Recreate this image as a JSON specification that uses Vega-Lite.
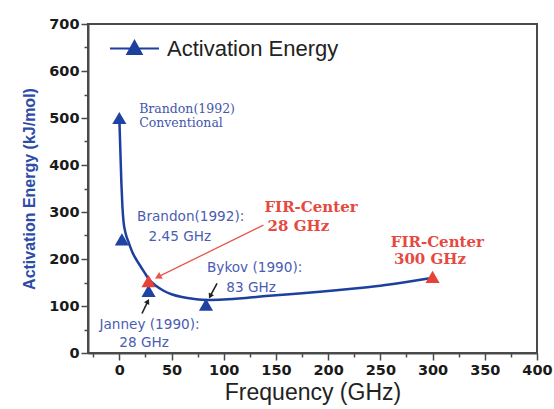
{
  "$schema": "https://vega.github.io/schema/vega-lite/v6.json",
  "autosize": {"type": "none"},
  "width": 449,
  "height": 329,
  "padding": {"left": 88, "top": 24, "right": 17, "bottom": 56},
  "background": "white",
  "config": {
    "view": {"stroke": "#4a4a4a", "strokeWidth": 2},
    "axis": {
      "grid": false,
      "domainColor": "#4a4a4a",
      "domainWidth": 2,
      "tickColor": "#4a4a4a",
      "tickWidth": 1.5,
      "labelFont": "DejaVu Sans",
      "labelFontWeight": "bold",
      "labelFontSize": 14.5,
      "labelColor": "#1a1a1a"
    }
  },
  "datasets": {
    "fit": [
      {"freq": 0, "ea": 500}, {"freq": 1, "ea": 430}, {"freq": 2, "ea": 360},
      {"freq": 3, "ea": 310}, {"freq": 4, "ea": 280}, {"freq": 6, "ea": 255},
      {"freq": 9, "ea": 235}, {"freq": 13, "ea": 212}, {"freq": 17, "ea": 196},
      {"freq": 21, "ea": 182}, {"freq": 25, "ea": 168}, {"freq": 29, "ea": 155},
      {"freq": 35, "ea": 143}, {"freq": 42, "ea": 133}, {"freq": 50, "ea": 125},
      {"freq": 60, "ea": 119}, {"freq": 72, "ea": 115}, {"freq": 85, "ea": 113},
      {"freq": 100, "ea": 114}, {"freq": 125, "ea": 118}, {"freq": 150, "ea": 123},
      {"freq": 175, "ea": 127}, {"freq": 200, "ea": 132}, {"freq": 225, "ea": 137},
      {"freq": 250, "ea": 143}, {"freq": 275, "ea": 151}, {"freq": 300, "ea": 160}
    ],
    "obs": [
      {"freq": 0, "ea": 500, "source": "Brandon (1992) conventional", "lab": "other"},
      {"freq": 2.45, "ea": 242, "source": "Brandon (1992) 2.45 GHz", "lab": "other"},
      {"freq": 28, "ea": 132, "source": "Janney (1990) 28 GHz", "lab": "other"},
      {"freq": 83, "ea": 103, "source": "Bykov (1990) 83 GHz", "lab": "other"},
      {"freq": 28, "ea": 153, "source": "FIR-Center 28 GHz", "lab": "fir"},
      {"freq": 300, "ea": 162, "source": "FIR-Center 300 GHz", "lab": "fir"}
    ],
    "arrows": [
      {"arrow": "fir28", "freq": 138, "ea": 272, "freq2": 37, "ea2": 162},
      {"arrow": "janney", "freq": 21.7, "ea": 84, "freq2": 27.3, "ea2": 110},
      {"arrow": "bykov", "freq": 93.6, "ea": 148, "freq2": 87, "ea2": 121}
    ],
    "notes": [
      {"freq": 19, "ea": 519, "text": "Brandon(1992)", "kind": "serif"},
      {"freq": 19, "ea": 489, "text": "Conventional", "kind": "serif"},
      {"freq": 17, "ea": 289, "text": "Brandon(1992):", "kind": "sans"},
      {"freq": 28, "ea": 247, "text": "2.45 GHz", "kind": "sans"},
      {"freq": 84, "ea": 181, "text": "Bykov (1990):", "kind": "sans"},
      {"freq": 102.5, "ea": 138, "text": "83 GHz", "kind": "sans"},
      {"freq": -19, "ea": 60, "text": "Janney (1990):", "kind": "sans"},
      {"freq": 0, "ea": 21, "text": "28 GHz", "kind": "sans"},
      {"freq": 139, "ea": 311, "text": "FIR-Center", "kind": "fir"},
      {"freq": 142, "ea": 270, "text": "28 GHz", "kind": "fir"},
      {"freq": 260, "ea": 236, "text": "FIR-Center", "kind": "fir"},
      {"freq": 263, "ea": 200, "text": "300 GHz", "kind": "fir"}
    ]
  },
  "encoding": {
    "x": {
      "field": "freq",
      "type": "quantitative",
      "scale": {"domain": [-30, 400], "nice": false, "zero": false},
      "axis": {
        "title": "Frequency (GHz)",
        "titleFont": "Liberation Sans",
        "titleFontSize": 23,
        "titleFontWeight": "normal",
        "titleColor": "#222222",
        "titlePadding": 5,
        "values": [-25, 0, 25, 50, 75, 100, 125, 150, 175, 200, 225, 250, 275, 300, 325, 350, 375, 400],
        "labelExpr": "datum.value % 50 === 0 ? datum.label : ''",
        "tickSize": {"condition": {"test": "datum.value % 50 === 0", "value": 7}, "value": 4},
        "labelPadding": 3,
        "labelFlush": false,
        "labelOverlap": false
      }
    },
    "y": {
      "field": "ea",
      "type": "quantitative",
      "scale": {"domain": [0, 700], "nice": false},
      "axis": {
        "title": "Activation Energy (kJ/mol)",
        "titleFont": "Liberation Sans",
        "titleFontSize": 16,
        "titleFontWeight": "bold",
        "titleColor": "#2d4ca8",
        "titlePadding": 11,
        "values": [0, 50, 100, 150, 200, 250, 300, 350, 400, 450, 500, 550, 600, 650, 700],
        "labelExpr": "datum.value % 100 === 0 ? datum.label : ''",
        "tickSize": {"condition": {"test": "datum.value % 100 === 0", "value": 7}, "value": 4},
        "labelPadding": 2,
        "labelFlush": false,
        "labelOverlap": false
      }
    }
  },
  "layer": [
    {
      "data": {"name": "fit"},
      "mark": {"type": "line", "interpolate": "monotone", "strokeWidth": 2.5},
      "encoding": {
        "color": {
          "datum": "Activation Energy",
          "scale": {"range": ["#1d3f9e"]},
          "legend": {
            "title": null,
            "orient": "none",
            "legendX": 21,
            "legendY": -1,
            "symbolType": "M-1,0H1M-0.29,0.22L0,-0.3L0.29,0.22Z",
            "symbolSize": 2401,
            "symbolStrokeWidth": 2,
            "labelFont": "Liberation Sans",
            "labelFontSize": 22,
            "labelLimit": 400,
            "labelColor": "#222222",
            "labelOffset": 7,
            "encode": {
              "symbols": {"update": {"fill": {"value": "#1d3f9e"}, "stroke": {"value": "#3858b0"}}}
            }
          }
        }
      }
    },
    {
      "data": {"name": "arrows"},
      "transform": [{"filter": "datum.arrow === 'fir28'"}],
      "mark": {"type": "rule", "color": "#e8574c", "strokeWidth": 1.3},
      "encoding": {"x2": {"field": "freq2"}, "y2": {"field": "ea2"}}
    },
    {
      "data": {"name": "arrows"},
      "transform": [{"filter": "datum.arrow !== 'fir28'"}],
      "mark": {"type": "rule", "color": "#222222", "strokeWidth": 1.6},
      "encoding": {"x2": {"field": "freq2"}, "y2": {"field": "ea2"}}
    },
    {
      "data": {"name": "arrows"},
      "transform": [{"filter": "datum.arrow === 'fir28'"}],
      "mark": {"type": "point", "shape": "triangle-up", "filled": true, "color": "#e8574c", "opacity": 1, "size": 60, "angle": 243},
      "encoding": {"x": {"field": "freq2", "type": "quantitative"}, "y": {"field": "ea2", "type": "quantitative"}}
    },
    {
      "data": {"name": "arrows"},
      "transform": [{"filter": "datum.arrow === 'janney'"}],
      "mark": {"type": "point", "shape": "triangle-up", "filled": true, "color": "#222222", "opacity": 1, "size": 35, "angle": 27},
      "encoding": {"x": {"field": "freq2", "type": "quantitative"}, "y": {"field": "ea2", "type": "quantitative"}}
    },
    {
      "data": {"name": "arrows"},
      "transform": [{"filter": "datum.arrow === 'bykov'"}],
      "mark": {"type": "point", "shape": "triangle-up", "filled": true, "color": "#222222", "opacity": 1, "size": 35, "angle": 208},
      "encoding": {"x": {"field": "freq2", "type": "quantitative"}, "y": {"field": "ea2", "type": "quantitative"}}
    },
    {
      "data": {"name": "obs"},
      "transform": [{"filter": "datum.lab === 'other'"}],
      "mark": {"type": "point", "shape": "triangle-up", "filled": true, "color": "#1f43a3", "opacity": 1, "size": 200}
    },
    {
      "data": {"name": "obs"},
      "transform": [{"filter": "datum.lab === 'fir'"}],
      "mark": {"type": "point", "shape": "triangle-up", "filled": true, "color": "#e5433a", "opacity": 1, "size": 200}
    },
    {
      "data": {"name": "notes"},
      "transform": [{"filter": "datum.kind === 'serif'"}],
      "mark": {"type": "text", "align": "left", "baseline": "middle", "font": "DejaVu Serif", "fontSize": 12.5, "color": "#4357ad"},
      "encoding": {"text": {"field": "text"}}
    },
    {
      "data": {"name": "notes"},
      "transform": [{"filter": "datum.kind === 'sans'"}],
      "mark": {"type": "text", "align": "left", "baseline": "middle", "font": "DejaVu Sans", "fontSize": 13.6, "color": "#4a5db2"},
      "encoding": {"text": {"field": "text"}}
    },
    {
      "data": {"name": "notes"},
      "transform": [{"filter": "datum.kind === 'fir'"}],
      "mark": {"type": "text", "align": "left", "baseline": "middle", "font": "DejaVu Serif", "fontSize": 15, "fontWeight": "bold", "color": "#e5493f"},
      "encoding": {"text": {"field": "text"}}
    }
  ]
}
